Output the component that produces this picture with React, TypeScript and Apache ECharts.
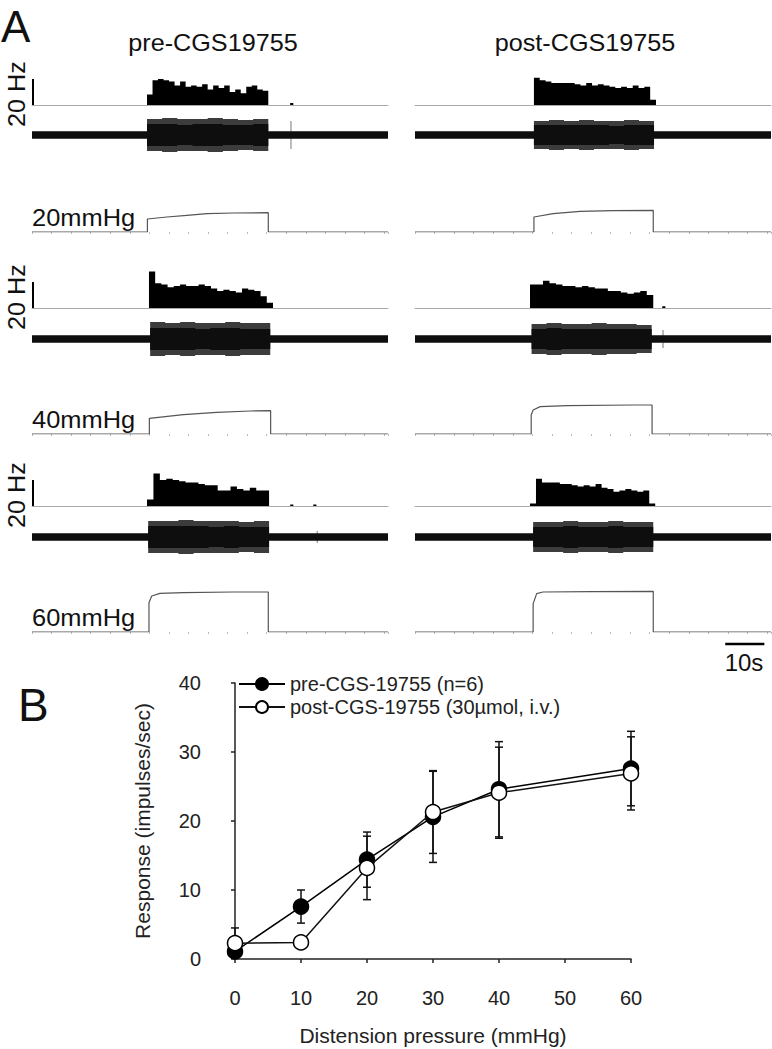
import React, { useEffect, useRef } from "react";
import * as echarts from "echarts";

const FONT = "'Liberation Sans', Arial, Helvetica, sans-serif";
const TRACE_SECONDS = 91;

// ---------- Panel A texts ----------
const columnTitles = ["pre-CGS19755", "post-CGS19755"];
const pressureLabels = ["20mmHg", "40mmHg", "60mmHg"];
const hzScaleValue = 20;
const hzScaleLabel = "20 Hz";
const timeScaleSeconds = 10;
const timeScaleLabel = "10s";

// ---------- Panel A: firing-rate histograms (Hz), bins spread over span (s) ----------
const histPre20 = [8, 19, 20, 19, 18, 15, 18, 14, 15, 14, 16, 12, 15, 13, 15, 10, 12, 9, 14, 15, 12, 11];
const histPre20Span = [29.4, 60.4];
const blipsPre20 = [[66.0, 1.5]];
const histPost20 = [21, 19, 18, 17, 17, 17, 17, 16, 15, 17, 15, 16, 15, 14, 13, 14, 13, 15, 13, 14, 4];
const histPost20Span = [30.4, 61.6];
const blipsPost20: number[][] = [];
const histPre40 = [28, 19, 18, 16, 17, 18, 17, 17, 18, 17, 15, 13, 14, 13, 12, 15, 14, 13, 9, 4];
const histPre40Span = [29.9, 61.6];
const blipsPre40: number[][] = [];
const histPost40 = [18, 18, 21, 19, 18, 17, 17, 16, 17, 16, 15, 15, 13, 13, 12, 11, 12, 13, 10];
const histPost40Span = [29.4, 60.9];
const blipsPost40 = [[63.2, 1.3]];
const histPre60 = [5, 25, 20, 21, 20, 19, 18, 18, 17, 16, 16, 12, 12, 15, 13, 12, 14, 12, 12];
const histPre60Span = [29.4, 60.6];
const blipsPre60 = [[66.0, 1.2], [71.9, 1.2]];
const histPost60 = [2, 21, 18, 18, 18, 17, 17, 16, 15, 16, 15, 17, 14, 13, 11, 12, 13, 12, 11, 12, 2];
const histPost60Span = [29.4, 61.4];
const blipsPost60: number[][] = [];

// ---------- Panel A: raw nerve recording envelopes (arbitrary units) ----------
const noiseAmplitude = 3.8;
const burstOuterPre20 = [16, 17, 16, 16, 17, 16, 15, 16];
const burstInnerPre20 = [11, 11, 10, 11, 11, 10, 10, 11];
const burstPre20Span = [29.4, 60.4];
const spikesPre20 = [[66.2, 14]];
const burstOuterPost20 = [14, 15, 14, 15, 14, 14, 15, 14];
const burstInnerPost20 = [10, 10, 10, 10, 10, 9, 10, 10];
const burstPost20Span = [30.4, 61.1];
const spikesPost20: number[][] = [];
const burstOuterPre40 = [17, 16, 17, 16, 16, 17, 16, 16];
const burstInnerPre40 = [11, 11, 11, 10, 11, 11, 10, 10];
const burstPre40Span = [30.2, 60.9];
const spikesPre40: number[][] = [];
const burstOuterPost40 = [15, 16, 15, 15, 16, 15, 15, 14];
const burstInnerPost40 = [10, 11, 10, 10, 10, 10, 10, 10];
const burstPost40Span = [29.8, 60.5];
const spikesPost40 = [[63.4, 9]];
const burstOuterPre60 = [16, 16, 17, 16, 16, 16, 15, 16];
const burstInnerPre60 = [11, 11, 11, 11, 10, 11, 10, 10];
const burstPre60Span = [29.7, 60.6];
const spikesPre60 = [[72.9, 6]];
const burstOuterPost60 = [15, 15, 16, 15, 15, 16, 15, 15];
const burstInnerPost60 = [10, 10, 11, 10, 10, 11, 10, 10];
const burstPost60Span = [30.2, 60.9];
const spikesPost60: number[][] = [];

// ---------- Panel A: distension pressure traces [s, mmHg] ----------
const pressurePre20 = [[0, 0], [29.5, 0], [29.5, 19.5], [34.5, 22.5], [39.6, 25], [44.7, 27.5], [51.5, 28.5], [60.4, 29], [60.4, 0], [91, 0]];
const pressurePost20 = [[0, 0], [30.4, 0], [30.4, 22.5], [35.3, 27.5], [42.2, 31], [50.7, 32], [60.9, 32.5], [60.9, 0], [91, 0]];
const pressurePre40 = [[0, 0], [30.0, 0], [30.0, 23.5], [38.7, 29], [47.2, 32.5], [55.8, 34.5], [61.0, 35], [61.0, 0], [91, 0]];
const pressurePost40 = [[0, 0], [29.7, 0], [29.7, 28.5], [30.2, 36], [32.0, 41], [38.9, 42.5], [55.8, 43.5], [60.6, 43.5], [60.6, 0], [91, 0]];
const pressurePre60 = [[0, 0], [29.9, 0], [29.9, 44], [30.6, 54], [32.7, 58], [38.7, 59], [51.5, 60], [60.4, 60], [60.4, 0], [91, 0]];
const pressurePost60 = [[0, 0], [30.2, 0], [30.2, 42.5], [31.1, 57.5], [32.7, 60], [45, 60.5], [60.9, 61], [60.9, 0], [91, 0]];

// ---------- Panel B ----------
const distension = [0, 10, 20, 30, 40, 60];
const preResponse = [1.1, 7.6, 14.4, 20.6, 24.6, 27.6];
const preSem = [0.8, 2.4, 4.0, 6.6, 6.9, 5.4];
const postResponse = [2.3, 2.4, 13.2, 21.3, 24.1, 26.9];
const postSem = [2.2, 0.3, 4.6, 6.0, 6.6, 5.3];
const preName = "pre-CGS-19755 (n=6)";
const postName = "post-CGS-19755 (30µmol, i.v.)";
const xAxisName = "Distension pressure (mmHg)";
const yAxisName = "Response (impulses/sec)";

const panels = [
  { col: 0, row: 0, hist: histPre20, histSpan: histPre20Span, blips: blipsPre20, outer: burstOuterPre20, inner: burstInnerPre20, burstSpan: burstPre20Span, spikes: spikesPre20, pressure: pressurePre20 },
  { col: 1, row: 0, hist: histPost20, histSpan: histPost20Span, blips: blipsPost20, outer: burstOuterPost20, inner: burstInnerPost20, burstSpan: burstPost20Span, spikes: spikesPost20, pressure: pressurePost20 },
  { col: 0, row: 1, hist: histPre40, histSpan: histPre40Span, blips: blipsPre40, outer: burstOuterPre40, inner: burstInnerPre40, burstSpan: burstPre40Span, spikes: spikesPre40, pressure: pressurePre40 },
  { col: 1, row: 1, hist: histPost40, histSpan: histPost40Span, blips: blipsPost40, outer: burstOuterPost40, inner: burstInnerPost40, burstSpan: burstPost40Span, spikes: spikesPost40, pressure: pressurePost40 },
  { col: 0, row: 2, hist: histPre60, histSpan: histPre60Span, blips: blipsPre60, outer: burstOuterPre60, inner: burstInnerPre60, burstSpan: burstPre60Span, spikes: spikesPre60, pressure: pressurePre60 },
  { col: 1, row: 2, hist: histPost60, histSpan: histPost60Span, blips: blipsPost60, outer: burstOuterPost60, inner: burstInnerPost60, burstSpan: burstPost60Span, spikes: spikesPost60, pressure: pressurePost60 },
];

// layout (pixels)
const COL_LEFT = [32, 415];
const COL_WIDTH = 356;
const HIST_BASE = [105, 308, 506];
const RAW_CENTER = [135, 339, 537];
const PRESS_BASE = [232, 434, 632];

function binPoints(values: number[], span: number[], sign = 1) {
  const w = (span[1] - span[0]) / values.length;
  const pts: number[][] = [];
  values.forEach((v, i) => {
    pts.push([span[0] + i * w, sign * v], [span[0] + (i + 1) * w, sign * v]);
  });
  return pts;
}

function areaSeries(data: any[], idx: number, color: string, z = 2) {
  return {
    type: "line",
    xAxisIndex: idx,
    yAxisIndex: idx,
    data,
    symbol: "none",
    showSymbol: false,
    silent: true,
    lineStyle: { width: 0, opacity: 0 },
    areaStyle: { color, opacity: 1 },
    z,
  };
}

function buildOption() {
  const grid: any[] = [];
  const xAxis: any[] = [];
  const yAxis: any[] = [];
  const series: any[] = [];
  const graphic: any[] = [];

  const addGrid = (left: number, top: number, width: number, height: number, x: any, y: any) => {
    grid.push({ left, top, width, height, containLabel: false });
    const idx = grid.length - 1;
    xAxis.push({ gridIndex: idx, ...x });
    yAxis.push({ gridIndex: idx, ...y });
    return idx;
  };

  const hiddenX = { type: "value", min: 0, max: TRACE_SECONDS, show: false };

  panels.forEach((p) => {
    const left = COL_LEFT[p.col];
    // histogram
    const hb = HIST_BASE[p.row];
    const hi = addGrid(left, hb - 39, COL_WIDTH, 39,
      {
        type: "value", min: 0, max: TRACE_SECONDS,
        axisLine: { show: true, lineStyle: { color: "#aaa", width: 1 } },
        axisTick: { show: false }, axisLabel: { show: false }, splitLine: { show: false },
      },
      { type: "value", min: 0, max: 30, show: false });
    const hpts: any[] = [[0, 0], [p.histSpan[0], 0], ...binPoints(p.hist, p.histSpan), [p.histSpan[1], 0]];
    p.blips.forEach(([t, v]) => {
      hpts.push([t, 0], [t, v], [t + 0.8, v], [t + 0.8, 0]);
    });
    hpts.push([TRACE_SECONDS, 0]);
    series.push(areaSeries(hpts, hi, "#000", 3));
    if (p.col === 0) {
      series.push({
        type: "line", xAxisIndex: hi, yAxisIndex: hi, clip: false, silent: true,
        data: [[0.25, 0], [0.25, hzScaleValue]], symbol: "none",
        lineStyle: { color: "#000", width: 2 }, z: 4,
      });
      graphic.push({
        type: "text", x: 17, y: hb - 11, rotation: Math.PI / 2, scaleX: 1.05,
        style: { text: hzScaleLabel, font: `24px ${FONT}`, fill: "#111", align: "center", verticalAlign: "middle" },
      });
    }

    // raw recording
    const rc = RAW_CENTER[p.row];
    const ri = addGrid(left, rc - 20, COL_WIDTH, 40, hiddenX, { type: "value", min: -20, max: 20, show: false });
    const outerUp = [[p.burstSpan[0], 0], ...binPoints(p.outer, p.burstSpan), [p.burstSpan[1], 0]];
    const outerDn = [[p.burstSpan[0], 0], ...binPoints(p.outer, p.burstSpan, -1), [p.burstSpan[1], 0]];
    series.push(areaSeries(outerUp, ri, "#3c3c3c", 2));
    series.push(areaSeries(outerDn, ri, "#3c3c3c", 2));
    const n = noiseAmplitude;
    const coreUp = [[0, n], [p.burstSpan[0], n], ...binPoints(p.inner, p.burstSpan), [p.burstSpan[1], n], [TRACE_SECONDS, n]];
    const coreDn = [[0, -n], [p.burstSpan[0], -n], ...binPoints(p.inner, p.burstSpan, -1), [p.burstSpan[1], -n], [TRACE_SECONDS, -n]];
    series.push(areaSeries(coreUp, ri, "#0e0e0e", 3));
    series.push(areaSeries(coreDn, ri, "#0e0e0e", 3));
    if (p.spikes.length) {
      const sp: any[] = [];
      p.spikes.forEach(([t, a], i) => {
        if (i > 0) sp.push(null);
        sp.push([t, -a], [t, a]);
      });
      series.push({
        type: "line", xAxisIndex: ri, yAxisIndex: ri, data: sp, symbol: "none", silent: true,
        lineStyle: { color: "#777", width: 1 }, z: 2,
      });
    }

    // pressure
    const pb = PRESS_BASE[p.row];
    const pi = addGrid(left, pb - 44, COL_WIDTH, 44,
      {
        type: "value", min: 0, max: TRACE_SECONDS, interval: 5, offset: 3,
        axisLine: { show: false },
        axisTick: { show: true, length: 2, lineStyle: { color: "#bbb", width: 1 } },
        axisLabel: { show: false }, splitLine: { show: false },
      },
      { type: "value", min: 0, max: 66, show: false });
    series.push({
      type: "line", xAxisIndex: pi, yAxisIndex: pi, data: p.pressure, symbol: "none", silent: true,
      lineStyle: { color: "#555", width: 1.2 }, z: 2,
    });
    if (p.col === 0) {
      graphic.push({
        type: "text", x: 32, y: pb - 14.5, scaleX: 1.06,
        style: { text: pressureLabels[p.row], font: `24px ${FONT}`, fill: "#111", align: "left", verticalAlign: "middle" },
      });
    }
  });

  // time scale bar
  const si = addGrid(COL_LEFT[1], 638, COL_WIDTH, 12, hiddenX, { type: "value", min: 0, max: 1, show: false });
  series.push({
    type: "line", xAxisIndex: si, yAxisIndex: si, data: [[79.3, 0.5], [79.3 + timeScaleSeconds, 0.5]], symbol: "none",
    silent: true, lineStyle: { color: "#000", width: 2.5 },
  });
  graphic.push({
    type: "text", x: 744, y: 662,
    style: { text: timeScaleLabel, font: `24px ${FONT}`, fill: "#111", align: "center", verticalAlign: "middle" },
  });

  // column titles and panel letters
  graphic.push({
    type: "text", x: 213, y: 43, scaleX: 1.05,
    style: { text: columnTitles[0], font: `24px ${FONT}`, fill: "#111", align: "center", verticalAlign: "middle" },
  });
  graphic.push({
    type: "text", x: 585, y: 43, scaleX: 1.05,
    style: { text: columnTitles[1], font: `24px ${FONT}`, fill: "#111", align: "center", verticalAlign: "middle" },
  });
  graphic.push({
    type: "text", x: 1, y: 26,
    style: { text: "A", font: `44px ${FONT}`, fill: "#111", align: "left", verticalAlign: "middle" },
  });
  graphic.push({
    type: "text", x: 18, y: 705,
    style: { text: "B", font: `46px ${FONT}`, fill: "#111", align: "left", verticalAlign: "middle" },
  });

  // Panel B
  const axisStyle = { color: "#222", width: 1.5 };
  const bi = addGrid(235, 683, 396, 276,
    {
      type: "value", min: 0, max: 60, interval: 10, offset: 14,
      axisLine: { show: true, lineStyle: axisStyle },
      axisTick: { show: true, length: 4, lineStyle: axisStyle },
      axisLabel: { fontSize: 20, color: "#222", margin: 15, fontFamily: FONT },
      splitLine: { show: false },
      name: xAxisName, nameLocation: "middle", nameGap: 52,
      nameTextStyle: { fontSize: 21, color: "#222", fontFamily: FONT },
    },
    {
      type: "value", min: 0, max: 40, interval: 10, offset: 22,
      axisLine: { show: true, lineStyle: axisStyle },
      axisTick: { show: true, length: 4, lineStyle: axisStyle },
      axisLabel: { fontSize: 20, color: "#222", margin: 12, fontFamily: FONT },
      splitLine: { show: false },
      name: yAxisName, nameLocation: "middle", nameGap: 60,
      nameTextStyle: { fontSize: 21, color: "#222", fontFamily: FONT },
    });

  const errSeries = (vals: number[], sems: number[], name: string) => ({
    type: "custom",
    name,
    xAxisIndex: bi,
    yAxisIndex: bi,
    data: distension.map((x, i) => [x, vals[i], sems[i]]),
    encode: { x: 0, y: 1 },
    silent: true,
    z: 1,
    renderItem: (_params: any, api: any) => {
      const x = api.value(0);
      const y = api.value(1);
      const e = api.value(2);
      const top = api.coord([x, y + e]);
      const bot = api.coord([x, Math.max(0, y - e)]);
      const hw = 4;
      const st = { stroke: "#111", lineWidth: 1.5 };
      return {
        type: "group",
        children: [
          { type: "line", shape: { x1: top[0], y1: top[1], x2: bot[0], y2: bot[1] }, style: st },
          { type: "line", shape: { x1: top[0] - hw, y1: top[1], x2: top[0] + hw, y2: top[1] }, style: st },
          { type: "line", shape: { x1: bot[0] - hw, y1: bot[1], x2: bot[0] + hw, y2: bot[1] }, style: st },
        ],
      };
    },
  });
  series.push(errSeries(preResponse, preSem, "preErr"));
  series.push(errSeries(postResponse, postSem, "postErr"));
  series.push({
    type: "line", name: preName, xAxisIndex: bi, yAxisIndex: bi,
    data: distension.map((x, i) => [x, preResponse[i]]),
    symbol: "circle", symbolSize: 15,
    itemStyle: { color: "#000", borderColor: "#000", borderWidth: 1.5 },
    lineStyle: { color: "#000", width: 1.5 }, z: 3,
  });
  series.push({
    type: "line", name: postName, xAxisIndex: bi, yAxisIndex: bi,
    data: distension.map((x, i) => [x, postResponse[i]]),
    symbol: "circle", symbolSize: 15,
    itemStyle: { color: "#fff", borderColor: "#000", borderWidth: 1.5 },
    lineStyle: { color: "#111", width: 1.5 }, z: 4,
  });

  return {
    animation: false,
    backgroundColor: "#fff",
    textStyle: { fontFamily: FONT },
    grid,
    xAxis,
    yAxis,
    series,
    graphic,
    legend: {
      data: [preName, postName],
      orient: "vertical",
      left: 233,
      top: 669,
      itemWidth: 46,
      itemHeight: 15,
      itemGap: 3,
      textStyle: { fontSize: 20, color: "#222", fontFamily: FONT },
      selectedMode: false,
    },
  };
}

export default function App() {
  const ref = useRef<HTMLDivElement>(null);
  useEffect(() => {
    if (!ref.current) return;
    const chart = echarts.init(ref.current, null, { renderer: "svg" });
    chart.setOption(buildOption() as any);
    return () => chart.dispose();
  }, []);
  return (
    <div
      ref={ref}
      style={{ position: "absolute", left: 0, top: 0, width: 772, height: 1049, background: "#fff" }}
    />
  );
}
